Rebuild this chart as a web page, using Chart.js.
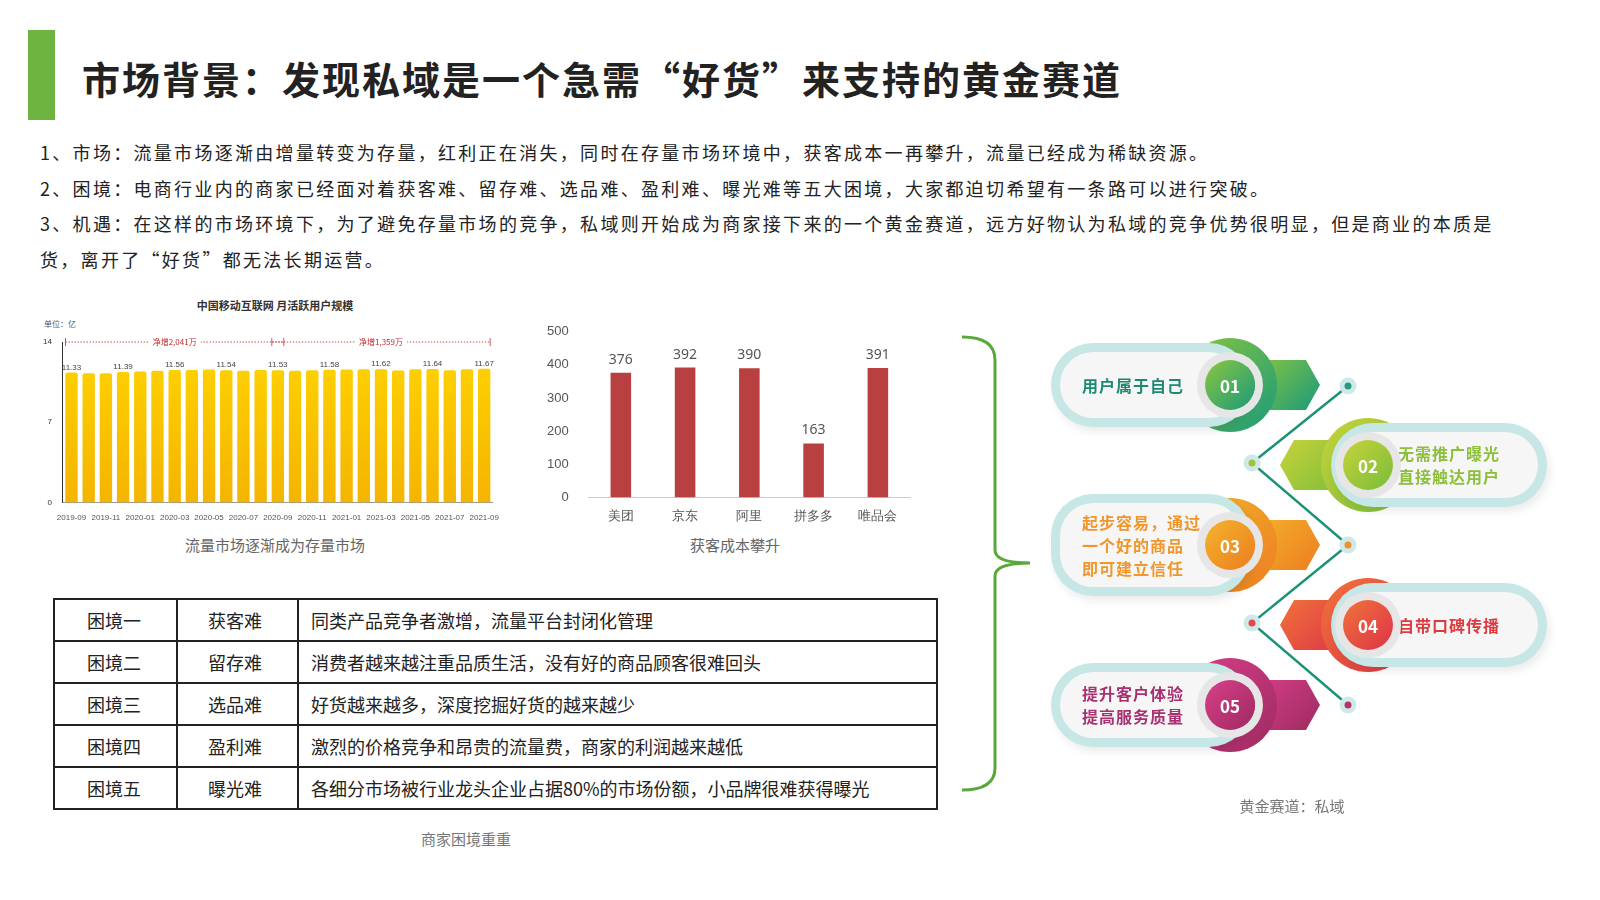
<!DOCTYPE html>
<html><head><meta charset="utf-8">
<script src="https://cdn.jsdelivr.net/npm/chart.js@4"></script>
<style>
body{margin:0;width:1600px;height:900px;background:#fff;font-family:"Noto Sans CJK SC","Noto Sans",sans-serif;position:relative;overflow:hidden;color:#222}
.abs{position:absolute}
.para{left:40px;font-size:18px;line-height:35.5px;width:1500px;letter-spacing:2.3px}
.cap{font-size:15px;color:#666;text-align:center}
table{border-collapse:collapse;font-size:18px}
td{border:2px solid #222;height:40px;padding:0 0 0 12px}
.pill{position:absolute;height:66px;border-radius:33px;background:#f6f6f6;box-shadow:0 0 0 9px #c7e6e6, 3px 5px 8px 9px rgba(0,0,0,.08);display:flex;align-items:center;font-size:16px;font-weight:bold;letter-spacing:1px}
.ring{position:absolute;width:94px;height:94px;border-radius:50%}
.inner{position:absolute;width:50px;height:50px;border-radius:50%;color:#fff;font-weight:bold;font-size:17px;display:flex;align-items:center;justify-content:center;box-shadow:0 0 0 8px #e6e6e6}
.hex{position:absolute;width:70px;height:50px;clip-path:polygon(0 0,80% 0,100% 50%,80% 100%,0 100%)}
.hexl{clip-path:polygon(20% 0,100% 0,100% 100%,20% 100%,0 50%)}
</style></head><body>
<div class="abs" style="left:28px;top:30px;width:27px;height:90px;background:#6cb33f"></div>
<div class="abs" style="left:82px;top:50px;font-size:38px;font-weight:bold;letter-spacing:2px">市场背景：发现私域是一个急需“好货”来支持的黄金赛道</div>
<div class="abs para" style="top:135px">1、市场：流量市场逐渐由增量转变为存量，红利正在消失，同时在存量市场环境中，获客成本一再攀升，流量已经成为稀缺资源。<br>2、困境：电商行业内的商家已经面对着获客难、留存难、选品难、盈利难、曝光难等五大困境，大家都迫切希望有一条路可以进行突破。<br>3、机遇：在这样的市场环境下，为了避免存量市场的竞争，私域则开始成为商家接下来的一个黄金赛道，远方好物认为私域的竞争优势很明显，但是商业的本质是<br>货，离开了“好货”都无法长期运营。</div>

<div class="abs" style="left:40px;top:297px;width:470px;text-align:center;font-size:11px;font-weight:bold;color:#333">中国移动互联网 月活跃用户规模</div>
<div class="abs" style="left:44px;top:318px;font-size:8px;color:#555">单位：亿</div>
<div class="abs" style="left:40px;top:334px;width:462px;height:192px"><canvas id="c1"></canvas></div>
<div class="abs cap" style="left:40px;top:534px;width:470px">流量市场逐渐成为存量市场</div>

<div class="abs" style="left:535px;top:312px;width:380px;height:215px"><canvas id="c2"></canvas></div>
<div class="abs cap" style="left:535px;top:534px;width:400px">获客成本攀升</div>

<table class="abs" style="left:53px;top:598px;width:885px">
<colgroup><col style="width:123px"><col style="width:121px"><col></colgroup>
<tbody id="tb"></tbody></table>
<div class="abs cap" style="left:266px;top:828px;width:400px;color:#777">商家困境重重</div>

<svg class="abs" style="left:0;top:0" width="1600" height="900">
<path d="M962 337 Q995 337 995 360 L995 550 Q995 563 1030 563 Q995 563 995 576 L995 768 Q995 790 962 790" fill="none" stroke="#5aa83a" stroke-width="3"/>
<polyline points="1348,386 1252,463 1348,545 1252,623 1348,705" fill="none" stroke="#1e9278" stroke-width="2.5"/>
<g stroke="#cfe9ea" stroke-width="5">
<circle cx="1348" cy="386" r="6" fill="#2a9a7a"/><circle cx="1252" cy="463" r="6" fill="#9cc33a"/>
<circle cx="1348" cy="545" r="6" fill="#f0902a"/><circle cx="1252" cy="623" r="6" fill="#e5474a"/>
<circle cx="1348" cy="705" r="6" fill="#b8306a"/></g>
</svg>
<div id="info"></div>
<div class="abs cap" style="left:1192px;top:795px;width:200px;color:#777">黄金赛道：私域</div>

<script>
const monthLabels = ["2019-09","","2019-11","","2020-01","","2020-03","","2020-05","","2020-07","","2020-09","","2020-11","","2021-01","","2021-03","","2021-05","","2021-07","","2021-09"];
const mauValues = [11.33,11.28,11.27,11.39,11.42,11.48,11.56,11.55,11.60,11.54,11.50,11.56,11.53,11.49,11.54,11.58,11.61,11.63,11.62,11.52,11.62,11.64,11.54,11.63,11.67];
const labelEvery = 3;
const growthNotes = [{from:0,to:12,text:"净增2,041万"},{from:12,to:24,text:"净增1,359万"}];

const platforms = ["美团","京东","阿里","拼多多","唯品会"];
const costValues = [376,392,390,163,391];

const dilemmaNames = ["困境一","困境二","困境三","困境四","困境五"];
const dilemmaKeys = ["获客难","留存难","选品难","盈利难","曝光难"];
const dilemmaDesc = ["同类产品竞争者激增，流量平台封闭化管理","消费者越来越注重品质生活，没有好的商品顾客很难回头","好货越来越多，深度挖掘好货的越来越少","激烈的价格竞争和昂贵的流量费，商家的利润越来越低","各细分市场被行业龙头企业占据80%的市场份额，小品牌很难获得曝光"];

document.getElementById("tb").innerHTML = dilemmaNames.map((n,i)=>
  `<tr><td style="padding-left:32px">${n}</td><td style="padding-left:30px">${dilemmaKeys[i]}</td><td>${dilemmaDesc[i]}</td></tr>`).join("");

// 右侧信息图
const steps = [
  {no:"01",text:"用户属于自己",color:["#8cc63f","#1a9a7a"],tc:"#1c8a70",side:"L",cy:385},
  {no:"02",text:"无需推广曝光<br>直接触达用户",color:["#c7d23a","#79bd3a"],tc:"#8cbf3a",side:"R",cy:465},
  {no:"03",text:"起步容易，通过<br>一个好的商品<br>即可建立信任",color:["#f4b42a","#ec7d22"],tc:"#f0962a",side:"L",cy:545},
  {no:"04",text:"自带口碑传播",color:["#f0733a","#dd3348"],tc:"#dd3a40",side:"R",cy:625},
  {no:"05",text:"提升客户体验<br>提高服务质量",color:["#d8408a","#9e2a60"],tc:"#a83070",side:"L",cy:705}
];
document.getElementById("info").innerHTML = steps.map(s=>{
  const g=`linear-gradient(135deg,${s.color[0]},${s.color[1]})`;
  const h = s.no==="03"?84:66;
  const top = s.cy - h/2;
  if(s.side==="L"){
    return `<div class="hex" style="left:1250px;top:${s.cy-25}px;background:${g}"></div>
    <div class="ring" style="left:1183px;top:${s.cy-47}px;background:${g}"></div>
    <div class="pill" style="left:1060px;top:${top}px;width:160px;height:${h}px;padding-left:22px;color:${s.tc};line-height:23px">${s.text}</div>
    <div class="inner" style="left:1205px;top:${s.cy-25}px;background:${g}">${s.no}</div>`;
  }
  return `<div class="hex hexl" style="left:1280px;top:${s.cy-25}px;background:${g}"></div>
  <div class="ring" style="left:1321px;top:${s.cy-47}px;background:${g}"></div>
  <div class="pill" style="left:1340px;top:${top}px;width:140px;padding-left:58px;color:${s.tc};line-height:23px">${s.text}</div>
  <div class="inner" style="left:1343px;top:${s.cy-25}px;background:${g}">${s.no}</div>`;
}).join("");

const barLabels = {
  id:"barLabels",
  afterDatasetsDraw(chart, args, opts){
    const ctx = chart.ctx, meta = chart.getDatasetMeta(0);
    ctx.save();
    ctx.font = opts.font; ctx.fillStyle = opts.color; ctx.textAlign = "center";
    meta.data.forEach((bar,i)=>{
      if(i % opts.every) return;
      ctx.fillText(chart.data.datasets[0].data[i].toFixed(opts.digits), bar.x, bar.y - opts.gap);
    });
    if(opts.notes){
      const y = chart.scales.y.getPixelForValue(14);
      ctx.strokeStyle="#c0282d"; ctx.fillStyle="#c0282d"; ctx.lineWidth=0.8;
      opts.notes.forEach(n=>{
        const x1 = meta.data[n.from].x - 6, x2 = meta.data[n.to].x + 6;
        ctx.setLineDash([1.5,1.5]);
        ctx.beginPath(); ctx.moveTo(x1,y); ctx.lineTo(x2,y); ctx.stroke();
        ctx.setLineDash([]);
        [x1,x2].forEach(x=>{ctx.beginPath();ctx.moveTo(x,y-4);ctx.lineTo(x,y+4);ctx.stroke();});
        const mx=(x1+x2)/2; ctx.font="8px 'Noto Sans CJK SC'";
        const w=ctx.measureText(n.text).width+8;
        ctx.fillStyle="#fff"; ctx.fillRect(mx-w/2,y-5,w,10);
        ctx.fillStyle="#c0282d"; ctx.fillText(n.text,mx,y+3);
      });
    }
    ctx.restore();
  }
};

const yellow = (c)=>{
  const {ctx, chartArea} = c.chart;
  if(!chartArea) return "#f6c400";
  const g = ctx.createLinearGradient(0,chartArea.top,0,chartArea.bottom);
  g.addColorStop(0,"#ffd400"); g.addColorStop(1,"#f4b400"); return g;
};

new Chart(document.getElementById("c1"),{
  type:"bar",
  data:{labels:monthLabels,datasets:[{data:mauValues,backgroundColor:yellow,borderRadius:2,barPercentage:0.72,categoryPercentage:1}]},
  options:{responsive:true,maintainAspectRatio:false,animation:false,
    layout:{padding:{top:8,right:8}},
    plugins:{legend:{display:false},tooltip:{enabled:false},
      barLabels:{every:labelEvery,digits:2,gap:3,font:"8px 'Liberation Sans'",color:"#444",notes:growthNotes}},
    scales:{
      x:{grid:{display:false},border:{color:"#999"},ticks:{autoSkip:false,maxRotation:0,font:{size:8},color:"#555"}},
      y:{min:0,max:14,grid:{display:false},border:{color:"#333"},afterBuildTicks:a=>{a.ticks=[0,7,14].map(v=>({value:v}))},ticks:{font:{size:8},color:"#333"}}
    }},
  plugins:[barLabels]
});

new Chart(document.getElementById("c2"),{
  type:"bar",
  data:{labels:platforms,datasets:[{data:costValues,backgroundColor:"#b84040",barPercentage:0.32,categoryPercentage:1}]},
  options:{responsive:true,maintainAspectRatio:false,animation:false,
    layout:{padding:{top:6,right:5}},
    plugins:{legend:{display:false},tooltip:{enabled:false},
      barLabels:{every:1,digits:0,gap:9,font:"14px 'Noto Sans'",color:"#555"}},
    scales:{
      x:{grid:{display:false},border:{color:"#ccc"},ticks:{font:{size:13},color:"#555"}},
      y:{min:0,max:500,grid:{display:false},border:{display:false},ticks:{stepSize:100,font:{size:13},color:"#555",padding:12}}
    }},
  plugins:[barLabels]
});
</script>
</body></html>
